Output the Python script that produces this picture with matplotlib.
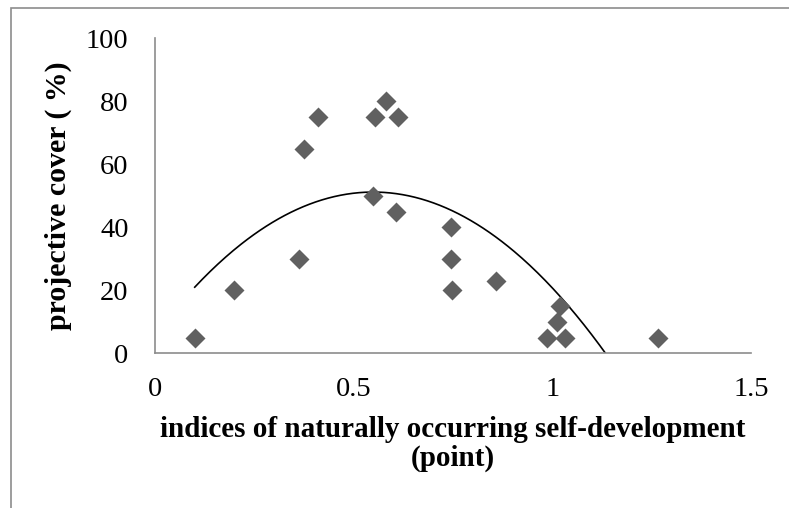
import matplotlib

matplotlib.use("Agg")
import matplotlib.pyplot as plt
from matplotlib.patches import Rectangle
import numpy as np

# indices of naturally occurring self-development (point) vs projective cover (%)
self_dev = [0.10, 0.20, 0.363, 0.375, 0.411, 0.554, 0.581, 0.612, 0.548, 0.606,
            0.745, 0.745, 0.747, 0.858, 1.019, 1.011, 0.986, 1.032, 1.267]
cover = [5, 20, 30, 65, 75, 75, 80, 75, 50, 45,
         40, 30, 20, 23, 15, 10, 5, 5, 5]

x_ticks = [0, 0.5, 1, 1.5]
x_tick_labels = ["0", "0.5", "1", "1.5"]
y_ticks = [0, 20, 40, 60, 80, 100]

plt.rcParams["font.family"] = ["Liberation Serif", "DejaVu Serif"]

fig = plt.figure(figsize=(7.89, 5.08), dpi=100)
ax = fig.add_axes([155 / 789, 1 - 353.3 / 508, 596 / 789, 315 / 508])

x = np.asarray(self_dev)
y = np.asarray(cover)

# order-2 polynomial trendline over the data range (as Excel draws it)
coef = np.polyfit(x, y, 2)
xs = np.linspace(x.min(), x.max(), 300)
ax.plot(xs, np.polyval(coef, xs), color="black", lw=1.2, zorder=2)

ax.plot(x, y, "D", ms=10.5, color="#606060", mec="none", zorder=3)

ax.set_xlim(0, 1.5)
ax.set_ylim(0, 100)
ax.set_xticks(x_ticks)
ax.set_xticklabels(x_tick_labels)
ax.set_yticks(y_ticks)
ax.tick_params(length=0, labelsize=20.5)
ax.tick_params(axis="y", pad=19)
ax.tick_params(axis="x", pad=17)

for side in ("top", "right"):
    ax.spines[side].set_visible(False)
for side in ("left", "bottom"):
    ax.spines[side].set_color("#8c8c8c")
    ax.spines[side].set_linewidth(1.2)

ax.set_xlabel("indices of naturally occurring self-development\n(point)",
              fontsize=21, fontweight="bold", linespacing=1.1, labelpad=10)
ax.set_ylabel("projective cover ( %)", fontsize=21.5, fontweight="bold",
              labelpad=10)

# chart-area border (only top and left edges are inside the picture)
fig.patches.append(Rectangle((11 / 789, -0.1), 1.2, 1 - 8.5 / 508 + 0.1,
                             transform=fig.transFigure, fill=False,
                             edgecolor="#8c8c8c", lw=1.2))

fig.savefig("out.png", dpi=100)
